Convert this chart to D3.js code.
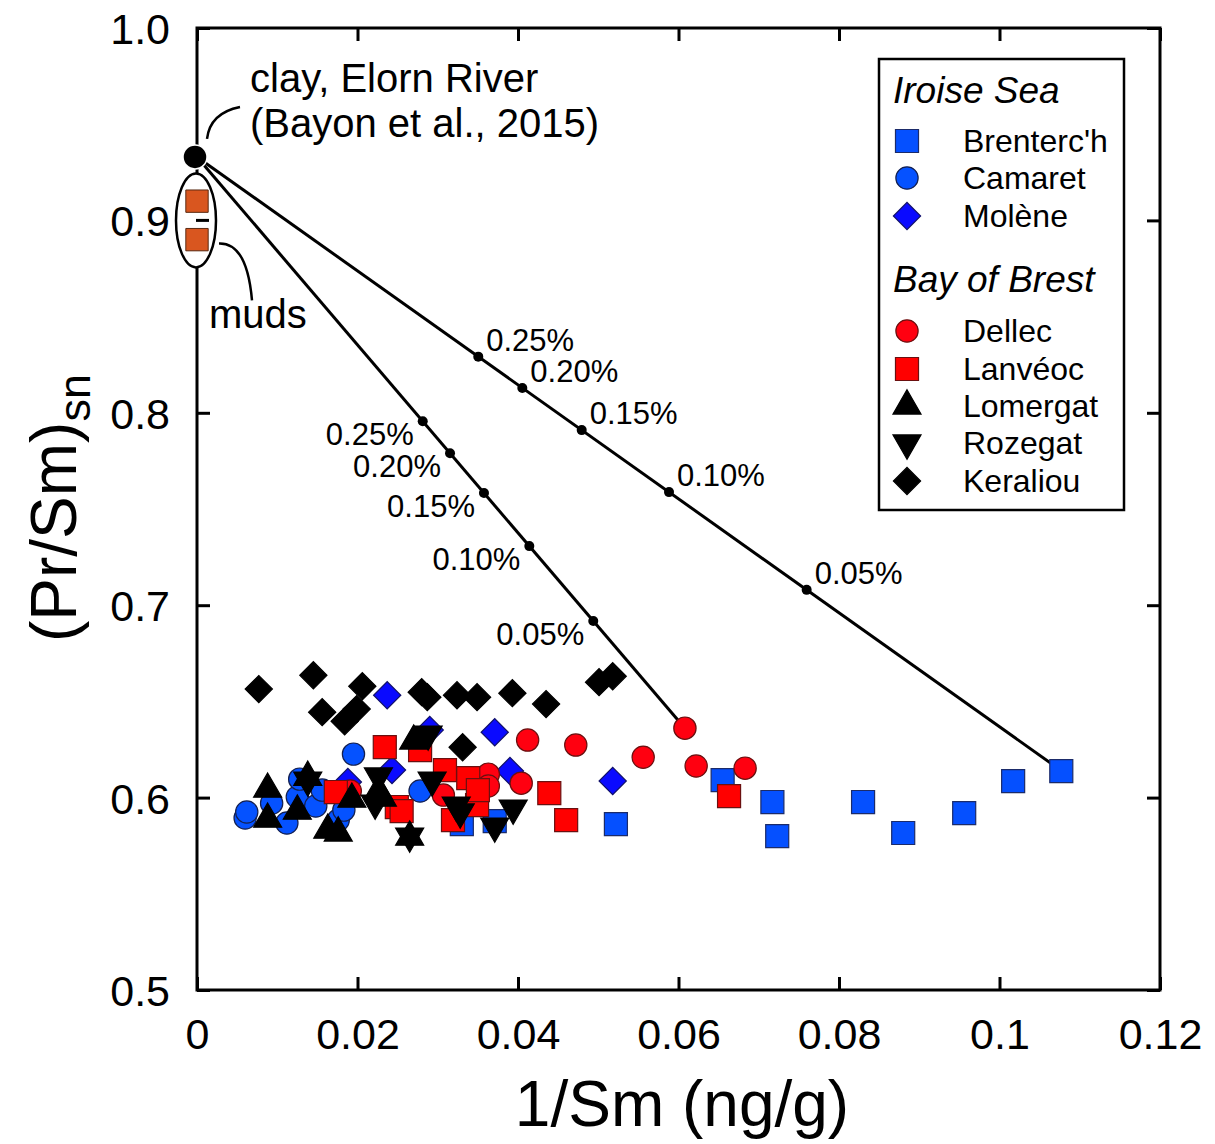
<!DOCTYPE html>
<html>
<head>
<meta charset="utf-8">
<script src="https://cdn.jsdelivr.net/npm/d3@7"></script>
<style>
  html, body { margin: 0; padding: 0; background: #fff; }
  svg { display: block; font-family: "Liberation Sans", Arial, sans-serif; }
</style>
</head>
<body>
<svg id="chart" width="1215" height="1144"></svg>
<script>
// ---- axis ticks ----
const xTicks = [0, 0.02, 0.04, 0.06, 0.08, 0.1, 0.12];
const xTickLabels = ["0", "0.02", "0.04", "0.06", "0.08", "0.1", "0.12"];
const yTicks = [0.5, 0.6, 0.7, 0.8, 0.9, 1.0];
const yTickLabels = ["0.5", "0.6", "0.7", "0.8", "0.9", "1.0"];

// ---- end-members ----
const clayPoint = [0, 0.933];
const mudsX = [0, 0];
const mudsY = [0.910, 0.890];

// ---- mixing lines (clay -> sample end-member), marked at clay weight fractions ----
const mixLabels = ["0.25%", "0.20%", "0.15%", "0.10%", "0.05%"];
const mixEndA = [0.0608, 0.636];
const mixMarksAX = [0.02813, 0.03153, 0.03576, 0.04141, 0.04938];
const mixEndB = [0.1077, 0.614];
const mixMarksBX = [0.03505, 0.04054, 0.04794, 0.05882, 0.07597];

// ---- samples: 1/Sm (g/ng) and (Pr/Sm)sn ----
const brentercX = [0.0330, 0.0371, 0.0522, 0.0655, 0.0717, 0.0723, 0.0830, 0.0880, 0.0956, 0.1017, 0.1077];
const brentercY = [0.5862, 0.5878, 0.5862, 0.6091, 0.5977, 0.5800, 0.5977, 0.5816, 0.5919, 0.6086, 0.6138];

const camaretX = [0.0060, 0.0062, 0.0093, 0.0112, 0.0125, 0.0128, 0.0148, 0.0156, 0.0176, 0.0183, 0.0195, 0.0278];
const camaretY = [0.5894, 0.5925, 0.5971, 0.5868, 0.6003, 0.6096, 0.5956, 0.6039, 0.5883, 0.5935, 0.6226, 0.6034];

const moleneX = [0.0237, 0.0290, 0.0243, 0.0188, 0.0371, 0.0390, 0.0518];
const moleneY = [0.6532, 0.6351, 0.6143, 0.6081, 0.6340, 0.6138, 0.6086];

const dellecX = [0.0191, 0.0307, 0.0363, 0.0363, 0.0404, 0.0412, 0.0472, 0.0556, 0.0608, 0.0622, 0.0683];
const dellecY = [0.6034, 0.6013, 0.6122, 0.6060, 0.6075, 0.6299, 0.6273, 0.6210, 0.6361, 0.6164, 0.6153];

const lanveocX = [0.0173, 0.0234, 0.0249, 0.0255, 0.0278, 0.0309, 0.0319, 0.0338, 0.0349, 0.0350, 0.0439, 0.0460, 0.0663];
const lanveocY = [0.6029, 0.6262, 0.5951, 0.5930, 0.6247, 0.6143, 0.5883, 0.6101, 0.5961, 0.6039, 0.6023, 0.5883, 0.6008];

const lomergatX = [0.0088, 0.0088, 0.0125, 0.0138, 0.0163, 0.0176, 0.0193, 0.0226, 0.0231, 0.0270, 0.0265];
const lomergatY = [0.6044, 0.5888, 0.5930, 0.6106, 0.5831, 0.5816, 0.5992, 0.6034, 0.5997, 0.6294, 0.5795];

const rozegatX = [0.0138, 0.0226, 0.0222, 0.0265, 0.0288, 0.0293, 0.0323, 0.0328, 0.0371, 0.0394];
const rozegatY = [0.6091, 0.6112, 0.5971, 0.5800, 0.6330, 0.6091, 0.5961, 0.5925, 0.5852, 0.5945];

const keraliouX = [0.0077, 0.0145, 0.0156, 0.0184, 0.0199, 0.0206, 0.0280, 0.0287, 0.0324, 0.0349, 0.0393, 0.0435, 0.0501, 0.0518, 0.0331];
const keraliouY = [0.6564, 0.6636, 0.6444, 0.6397, 0.6460, 0.6579, 0.6548, 0.6522, 0.6532, 0.6522, 0.6543, 0.6486, 0.6600, 0.6631, 0.6262];

// ---- series styling ----
const series = [
  { name: "Brenterc'h", group: 0, x: brentercX, y: brentercY, shape: "square",  fill: "#0550ff", stroke: "#1b2b6a" },
  { name: "Camaret",    group: 0, x: camaretX,  y: camaretY,  shape: "circle",  fill: "#0552ff", stroke: "#142050" },
  { name: "Molène",     group: 0, x: moleneX,   y: moleneY,   shape: "diamond", fill: "#0a0aff", stroke: "#10106a" },
  { name: "Dellec",     group: 1, x: dellecX,   y: dellecY,   shape: "circle",  fill: "#ff0010", stroke: "#6a1010" },
  { name: "Lanvéoc",    group: 1, x: lanveocX,  y: lanveocY,  shape: "square",  fill: "#ff0000", stroke: "#6a1010" },
  { name: "Lomergat",   group: 1, x: lomergatX, y: lomergatY, shape: "up",      fill: "#000000", stroke: "#000000" },
  { name: "Rozegat",    group: 1, x: rozegatX,  y: rozegatY,  shape: "down",    fill: "#000000", stroke: "#000000" },
  { name: "Keraliou",   group: 1, x: keraliouX, y: keraliouY, shape: "diamond", fill: "#000000", stroke: "#000000" }
];
// order in which the groups are stacked on the plot
const drawOrder = ["Keraliou", "Brenterc'h", "Camaret", "Molène", "Dellec", "Lanvéoc", "Lomergat", "Rozegat"];

const svg = d3.select("#chart");
const margin = { left: 197, right: 1160, top: 28, bottom: 990 };

const x = d3.scaleLinear().domain([0, 0.12]).range([margin.left, margin.right]);
const y = d3.scaleLinear().domain([0.5, 1.0]).range([margin.bottom, margin.top]);

function symbolPath(shape) {
  switch (shape) {
    case "square":  return { d: d3.symbol(d3.symbolSquare, 530)(), rot: 0 };
    case "circle":  return { d: d3.symbol(d3.symbolCircle, 390)(), rot: 0 };
    case "diamond": return { d: d3.symbol(d3.symbolSquare, 370)(), rot: 45 };
    case "up":      return { d: d3.symbol(d3.symbolTriangle, 340)(), rot: 0 };
    case "down":    return { d: d3.symbol(d3.symbolTriangle, 340)(), rot: 180 };
  }
}

// ---- axes: ticks inside on all four sides ----
const tickLen = 13;
const fontTick = 43;

const gx = svg.append("g").attr("transform", `translate(0,${margin.bottom})`)
  .call(d3.axisBottom(x).tickValues(xTicks).tickFormat((d, i) => xTickLabels[i])
    .tickSizeInner(-tickLen).tickSizeOuter(0).tickPadding(28));
const gy = svg.append("g").attr("transform", `translate(${margin.left},0)`)
  .call(d3.axisLeft(y).tickValues(yTicks).tickFormat((d, i) => yTickLabels[i])
    .tickSizeInner(-tickLen).tickSizeOuter(0).tickPadding(27));
const gxTop = svg.append("g").attr("transform", `translate(0,${margin.top})`)
  .call(d3.axisTop(x).tickValues(xTicks).tickFormat("").tickSizeInner(-tickLen).tickSizeOuter(0));
const gyRight = svg.append("g").attr("transform", `translate(${margin.right},0)`)
  .call(d3.axisRight(y).tickValues(yTicks).tickFormat("").tickSizeInner(-tickLen).tickSizeOuter(0));

[gx, gy, gxTop, gyRight].forEach(g => {
  g.select(".domain").remove();
  g.selectAll(".tick line").attr("stroke", "#000").attr("stroke-width", 3);
  g.selectAll(".tick text").attr("fill", "#000").attr("font-size", fontTick)
    .attr("font-family", "Liberation Sans, Arial, sans-serif");
});
gy.selectAll(".tick text").attr("dy", "0.36em");

svg.append("rect")
  .attr("x", margin.left).attr("y", margin.top)
  .attr("width", margin.right - margin.left).attr("height", margin.bottom - margin.top)
  .attr("fill", "none").attr("stroke", "#000").attr("stroke-width", 3);

// ---- axis titles ----
svg.append("text")
  .attr("x", 682).attr("y", 1126)
  .attr("text-anchor", "middle").attr("font-size", 64).attr("fill", "#000")
  .text("1/Sm (ng/g)");

const yt = svg.append("text")
  .attr("transform", `translate(76,508) rotate(-90)`)
  .attr("text-anchor", "middle").attr("font-size", 64).attr("fill", "#000");
yt.append("tspan").text("(Pr/Sm)");
yt.append("tspan").attr("font-size", 45).attr("dy", 14).text("sn");

// ---- mixing lines with fraction markers ----
function mixing(end, marksX, labelDx, labelDy, anchor) {
  const slope = (end[1] - clayPoint[1]) / (end[0] - clayPoint[0]);
  svg.append("line")
    .attr("x1", x(clayPoint[0])).attr("y1", y(clayPoint[1]))
    .attr("x2", x(end[0])).attr("y2", y(end[1]))
    .attr("stroke", "#000").attr("stroke-width", 3);
  const pts = marksX.map((mx, i) => ({ x: mx, y: clayPoint[1] + slope * (mx - clayPoint[0]), label: mixLabels[i] }));
  svg.selectAll(null).data(pts).enter().append("circle")
    .attr("cx", d => x(d.x)).attr("cy", d => y(d.y)).attr("r", 5).attr("fill", "#000");
  svg.selectAll(null).data(pts).enter().append("text")
    .attr("x", d => x(d.x) + labelDx).attr("y", d => y(d.y) + labelDy)
    .attr("text-anchor", anchor).attr("font-size", 31).attr("fill", "#000")
    .text(d => d.label);
}
mixing(mixEndA, mixMarksAX, -9, 24, "end");
mixing(mixEndB, mixMarksBX, 8, -6, "start");

// ---- samples ----
const byName = new Map(series.map(s => [s.name, s]));
drawOrder.forEach(name => {
  const s = byName.get(name);
  const sym = symbolPath(s.shape);
  const pts = s.x.map((v, i) => [v, s.y[i]]);
  svg.append("g").selectAll("path").data(pts).enter().append("path")
    .attr("d", sym.d)
    .attr("transform", d => `translate(${x(d[0])},${y(d[1])}) rotate(${sym.rot})`)
    .attr("fill", s.fill).attr("stroke", s.stroke).attr("stroke-width", 1.2);
});

// ---- clay and muds end-members ----
svg.append("ellipse")
  .attr("cx", x(0) - 1).attr("cy", y(0.9))
  .attr("rx", 20).attr("ry", 47)
  .attr("fill", "#fff").attr("stroke", "#000").attr("stroke-width", 2.5);
svg.append("line")
  .attr("x1", x(0) - 1).attr("x2", x(0) + tickLen - 1)
  .attr("y1", y(0.9)).attr("y2", y(0.9))
  .attr("stroke", "#000").attr("stroke-width", 3);
svg.selectAll(null).data(mudsY.map((v, i) => [mudsX[i], v])).enter().append("path")
  .attr("d", d3.symbol(d3.symbolSquare, 500)())
  .attr("transform", d => `translate(${x(d[0])},${y(d[1])})`)
  .attr("fill", "#d9561f").attr("stroke", "#5a2a12").attr("stroke-width", 1);

svg.append("circle")
  .attr("cx", x(clayPoint[0]) - 2).attr("cy", y(clayPoint[1])).attr("r", 12)
  .attr("fill", "#000").attr("stroke", "#fff").attr("stroke-width", 1.5);

// ---- annotations ----
const cx0 = x(clayPoint[0]), cy0 = y(clayPoint[1]);
svg.append("path")
  .attr("d", `M${cx0 + 10},${cy0 - 18} Q${cx0 + 13},${cy0 - 44} ${cx0 + 43},${cy0 - 50}`)
  .attr("fill", "none").attr("stroke", "#000").attr("stroke-width", 2.5);
svg.append("text").attr("x", 250).attr("y", 92).attr("font-size", 40).attr("fill", "#000")
  .text("clay, Elorn River");
svg.append("text").attr("x", 250).attr("y", 137).attr("font-size", 40).attr("fill", "#000")
  .text("(Bayon et al., 2015)");

const my0 = y(0.9);
svg.append("path")
  .attr("d", `M${cx0 + 22},${my0 + 23} Q${cx0 + 50},${my0 + 22} ${cx0 + 55},${my0 + 80}`)
  .attr("fill", "none").attr("stroke", "#000").attr("stroke-width", 2.5);
svg.append("text").attr("x", 209).attr("y", 328).attr("font-size", 40).attr("fill", "#000")
  .text("muds");

// ---- legend ----
const lg = svg.append("g");
lg.append("rect").attr("x", 879).attr("y", 59).attr("width", 245).attr("height", 451)
  .attr("fill", "#fff").attr("stroke", "#000").attr("stroke-width", 2.5);
const groupTitles = ["Iroise Sea", "Bay of Brest"];
const titleY = [103, 292];
const rowY = [[141, 178, 216], [331, 369, 406, 443, 481]];
groupTitles.forEach((t, gi) => {
  lg.append("text").attr("x", 893).attr("y", titleY[gi]).attr("font-size", 37)
    .attr("font-style", "italic").attr("fill", "#000").text(t);
  series.filter(s => s.group === gi).forEach((s, i) => {
    const sym = symbolPath(s.shape);
    const cy = rowY[gi][i];
    lg.append("path").attr("d", sym.d)
      .attr("transform", `translate(907,${cy}) rotate(${sym.rot})`)
      .attr("fill", s.fill).attr("stroke", s.stroke).attr("stroke-width", 1.2);
    lg.append("text").attr("x", 963).attr("y", cy + 11).attr("font-size", 32)
      .attr("fill", "#000").text(s.name);
  });
});
</script>
</body>
</html>
